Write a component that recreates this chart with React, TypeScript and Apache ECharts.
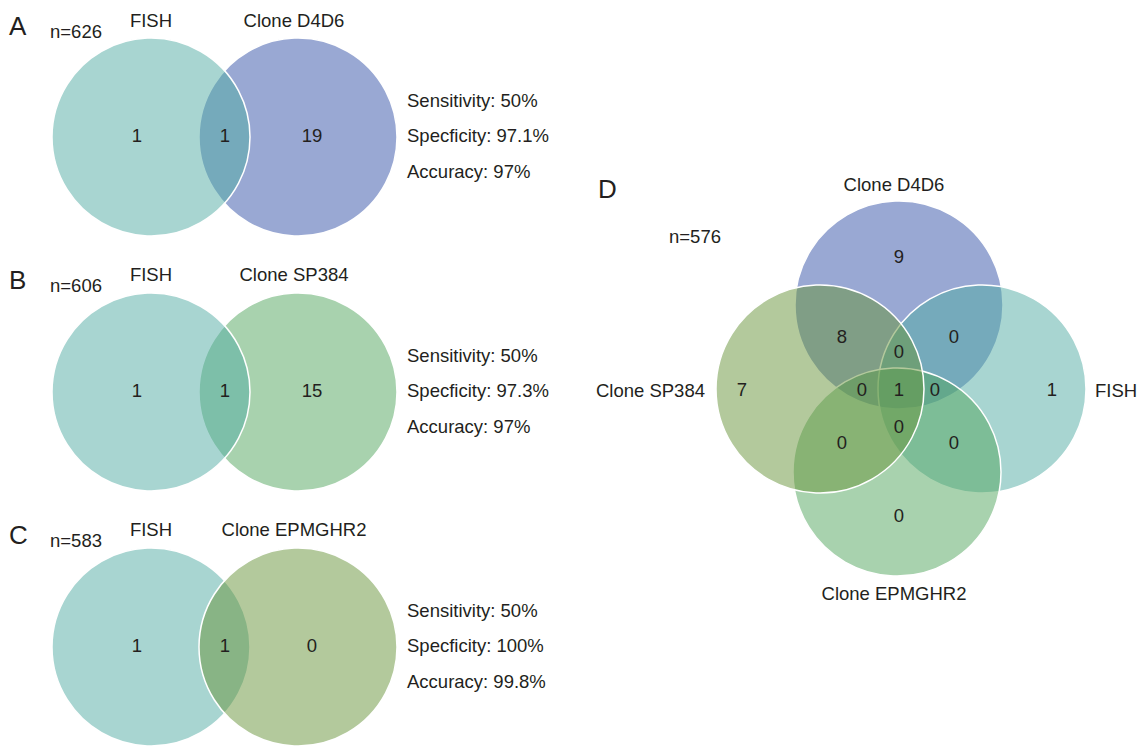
import React, { useEffect, useRef } from "react";
import * as echarts from "echarts";

// ---------- data ----------
const panelLetters = ["A", "B", "C", "D"];
const pairSampleSizes = [626, 606, 583];
const pairLeftNames = ["FISH", "FISH", "FISH"];
const pairRightNames = ["Clone D4D6", "Clone SP384", "Clone EPMGHR2"];
const pairLeftOnly = [1, 1, 1];
const pairBoth = [1, 1, 1];
const pairRightOnly = [19, 15, 0];
const sensitivityPct = [50, 50, 50];
const specificityPct = [97.1, 97.3, 100];
const accuracyPct = [97, 97, 99.8];

const quadSampleSize = 576;
const quadSetNames = ["Clone D4D6", "FISH", "Clone EPMGHR2", "Clone SP384"];
const quadRegionKeys = [
  "D4D6",
  "D4D6+SP384",
  "D4D6+FISH",
  "D4D6+SP384+FISH",
  "SP384",
  "D4D6+SP384+EPMGHR2",
  "ALL",
  "D4D6+FISH+EPMGHR2",
  "FISH",
  "SP384+FISH+EPMGHR2",
  "SP384+EPMGHR2",
  "FISH+EPMGHR2",
  "EPMGHR2",
];
const quadRegionCounts = [9, 8, 0, 0, 7, 0, 1, 0, 1, 0, 0, 0, 0];

// ---------- layout / style ----------
const FONT = '"Liberation Sans", Arial, Helvetica, sans-serif';
const TXT = "#231f20";
const FS = 18.5;
const LETTER_FS = 26;
const COL = {
  teal: "rgba(81,171,163,0.5)",
  blue: "rgba(51,81,167,0.5)",
  green: "rgba(81,165,93,0.5)",
  olive: "rgba(103,147,57,0.5)",
};
const pairRightColors = [COL.blue, COL.green, COL.olive];
const pairLeftOnTop = [true, true, false];
const pairCenterY = [137, 392, 647];
const pairHeaderY = [20, 274, 529];
const PAIR_R = 99;
const PAIR_LX = 151;
const PAIR_RX = 298;

// quad circles in draw order: D4D6 (top), FISH (right), EPMGHR2 (bottom), SP384 (left)
const quadCircles = [
  { cx: 899, cy: 305, color: COL.blue },
  { cx: 982, cy: 389, color: COL.teal },
  { cx: 897, cy: 472, color: COL.green },
  { cx: 820, cy: 389, color: COL.olive },
];
const QUAD_R = 104;
const quadRegionPos: Record<string, [number, number]> = {
  D4D6: [899, 256],
  "D4D6+SP384": [842, 336],
  "D4D6+FISH": [954, 336],
  "D4D6+SP384+FISH": [899, 351],
  SP384: [742, 389],
  "D4D6+SP384+EPMGHR2": [862, 389],
  ALL: [899, 389],
  "D4D6+FISH+EPMGHR2": [935, 389],
  FISH: [1052, 389],
  "SP384+FISH+EPMGHR2": [899, 426],
  "SP384+EPMGHR2": [842, 442],
  "FISH+EPMGHR2": [954, 442],
  EPMGHR2: [899, 515],
};
const quadLabelPos = [
  { x: 894, y: 184, align: "center" },
  { x: 1095, y: 390, align: "left" },
  { x: 894, y: 593, align: "center" },
  { x: 705, y: 390, align: "right" },
];

function text(x: number, y: number, s: string, size = FS, align = "center") {
  return {
    type: "text",
    z: 10,
    style: {
      text: s,
      x,
      y,
      fill: TXT,
      fontSize: size,
      fontFamily: FONT,
      align,
      verticalAlign: "middle",
    },
  };
}

function circle(cx: number, cy: number, r: number, fill: string, z: number) {
  return {
    type: "circle",
    z,
    shape: { cx, cy, r },
    style: { fill, stroke: "#ffffff", lineWidth: 1.5 },
  };
}

function buildGraphics() {
  const els: any[] = [];
  for (let i = 0; i < 3; i++) {
    const cy = pairCenterY[i];
    const hy = pairHeaderY[i];
    const leftC = circle(PAIR_LX, cy, PAIR_R, COL.teal, pairLeftOnTop[i] ? 2 : 1);
    const rightC = circle(PAIR_RX, cy, PAIR_R, pairRightColors[i], pairLeftOnTop[i] ? 1 : 2);
    els.push(leftC, rightC);
    els.push(text(9, hy + 6, panelLetters[i], LETTER_FS, "left"));
    els.push(text(50, hy + 11, "n=" + pairSampleSizes[i], FS, "left"));
    els.push(text(PAIR_LX, hy, pairLeftNames[i]));
    els.push(text(294, hy, pairRightNames[i]));
    els.push(text(137, cy - 2, String(pairLeftOnly[i])));
    els.push(text(225, cy - 2, String(pairBoth[i])));
    els.push(text(312, cy - 2, String(pairRightOnly[i])));
    els.push(text(407, cy - 37, "Sensitivity: " + sensitivityPct[i] + "%", FS, "left"));
    els.push(text(407, cy - 2, "Specficity: " + specificityPct[i] + "%", FS, "left"));
    els.push(text(407, cy + 34, "Accuracy: " + accuracyPct[i] + "%", FS, "left"));
  }
  quadCircles.forEach((c, i) => els.push(circle(c.cx, c.cy, QUAD_R, c.color, 1 + i)));
  els.push(text(598, 189, panelLetters[3], LETTER_FS, "left"));
  els.push(text(669, 236, "n=" + quadSampleSize, FS, "left"));
  quadSetNames.forEach((n, i) => {
    const p = quadLabelPos[i];
    els.push(text(p.x, p.y, n, FS, p.align));
  });
  quadRegionKeys.forEach((k, i) => {
    const p = quadRegionPos[k];
    els.push(text(p[0], p[1], String(quadRegionCounts[i])));
  });
  return els;
}

export default function App() {
  const ref = useRef<HTMLDivElement>(null);
  useEffect(() => {
    document.body.style.margin = "0";
    const chart = echarts.init(ref.current!, undefined, { renderer: "svg" });
    chart.setOption({
      animation: false,
      backgroundColor: "#ffffff",
      graphic: { elements: buildGraphics() },
    });
    return () => chart.dispose();
  }, []);
  return <div ref={ref} style={{ width: 1140, height: 746 }} />;
}
